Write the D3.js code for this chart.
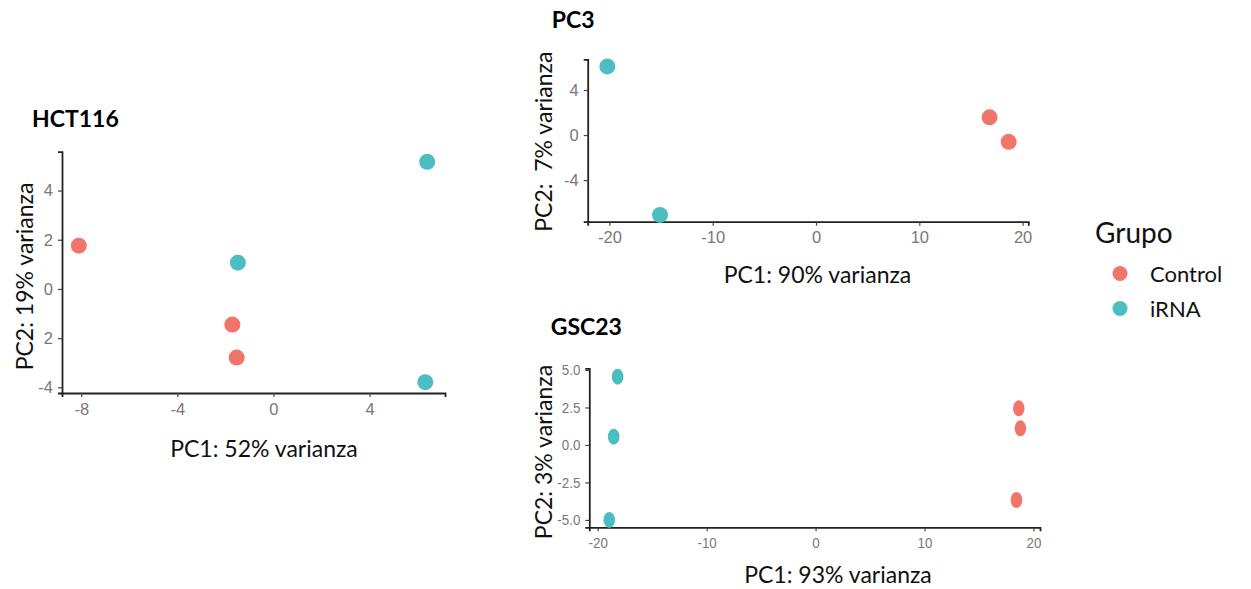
<!DOCTYPE html>
<html><head><meta charset="utf-8">
<script src="https://cdn.jsdelivr.net/npm/d3@7"></script>
<style>
body{margin:0;background:#fff;}
svg{display:block;}
</style></head>
<body>
<svg id="c" width="1251" height="589"></svg>
<script>
// ---------- data ----------
const groups = ["Control", "iRNA"];

// HCT116
const hctPC1   = [-8.1, -1.71, -1.53, -1.48, 6.40, 6.32];
const hctPC2   = [1.76, -1.45, -2.79, 1.07, 5.17, -3.79];
const hctGroup = ["Control","Control","Control","iRNA","iRNA","iRNA"];
const hctXTicks = [-8, -4, 0, 4];
const hctXLabels = ["-8", "-4", "0", "4"];
const hctYTicks = [4, 2, 0, -2, -4];
const hctYLabels = ["4", "2", "0", "2", "-4"];

// PC3
const pc3PC1   = [16.8, 18.65, -20.2, -15.1];
const pc3PC2   = [1.57, -0.6, 6.1, -7.1];
const pc3Group = ["Control","Control","iRNA","iRNA"];
const pc3XTicks = [-20, -10, 0, 10, 20];
const pc3XLabels = ["-20", "-10", "0", "10", "20"];
const pc3YTicks = [4, 0, -4];
const pc3YLabels = ["4", "0", "-4"];

// GSC23
const gscPC1   = [18.65, 18.8, 18.44, -18.17, -18.53, -18.94];
const gscPC2   = [2.44, 1.11, -3.67, 4.55, 0.55, -5.0];
const gscGroup = ["Control","Control","Control","iRNA","iRNA","iRNA"];
const gscXTicks = [-20, -10, 0, 10, 20];
const gscXLabels = ["-20", "-10", "0", "10", "20"];
const gscYTicks = [5, 2.5, 0, -2.5, -5];
const gscYLabels = ["5.0", "2.5", "0.0", "-2.5", "-5.0"];

// ---------- style ----------
const color = d3.scaleOrdinal().domain(groups).range(["#F2756B", "#4BBEC2"]);
const FONT = "Lato, 'Open Sans', sans-serif";
const TICKFONT = "'Liberation Sans', Arial, sans-serif";

const panels = [
  { title: "HCT116", xTitle: "PC1: 52% varianza", yTitle: "PC2: 19% varianza",
    pc1: hctPC1, pc2: hctPC2, grp: hctGroup,
    xT: hctXTicks, xL: hctXLabels, yT: hctYTicks, yL: hctYLabels,
    xDom: [-8.8, 7.14], xRange: [62, 445], yDom: [-4.23, 5.58], yRange: [393, 151.7],
    titlePos: [32, 127], xTitlePos: [264, 457], yTitlePos: [33, 276.5],
    tickFs: 16.5, tickStretch: 1, rx: 8, ry: 8 },
  { title: "PC3", xTitle: "PC1: 90% varianza", yTitle: "PC2:  7% varianza",
    pc1: pc3PC1, pc2: pc3PC2, grp: pc3Group,
    xT: pc3XTicks, xL: pc3XLabels, yT: pc3YTicks, yL: pc3YLabels,
    xDom: [-22.1, 20.55], xRange: [587.7, 1028.3], yDom: [-7.7, 6.73], yRange: [221.7, 59.3],
    titlePos: [551.7, 28], xTitlePos: [817.5, 283], yTitlePos: [552, 141.7],
    tickFs: 16.5, tickStretch: 1, rx: 8, ry: 8 },
  { title: "GSC23", xTitle: "PC1: 93% varianza", yTitle: "PC2: 3% varianza",
    pc1: gscPC1, pc2: gscPC2, grp: gscGroup,
    xT: gscXTicks, xL: gscXLabels, yT: gscYTicks, yL: gscYLabels,
    xDom: [-20.77, 20.6], xRange: [589.3, 1040], yDom: [-5.49, 5.11], yRange: [527.3, 368.3],
    titlePos: [550.7, 335], xTitlePos: [838, 583], yTitlePos: [552, 452],
    tickFs: 14.5, tickStretch: 0.92, rx: 5.8, ry: 8 }
];

const svg = d3.select("#c");

panels.forEach(p => {
  const x = d3.scaleLinear().domain(p.xDom).range(p.xRange);
  const y = d3.scaleLinear().domain(p.yDom).range(p.yRange);
  const g = svg.append("g");

  // axes
  const xa = g.append("g").attr("transform", `translate(0,${p.yRange[0]})`)
    .call(d3.axisBottom(x).tickValues(p.xT).tickSize(4).tickPadding(6)
      .tickFormat((d, i) => p.xL[i]));
  const ya = g.append("g").attr("transform", `translate(${p.xRange[0]},0)`)
    .call(d3.axisLeft(y).tickValues(p.yT).tickSize(4).tickPadding(5)
      .tickFormat((d, i) => p.yL[i]));
  [xa, ya].forEach(a => {
    a.select(".domain").attr("stroke", "#222").attr("stroke-width", 1.8);
    a.selectAll(".tick line").attr("stroke", "#444").attr("stroke-width", 1.2);
    a.selectAll(".tick text").attr("fill", "#787878").attr("font-family", TICKFONT)
      .attr("font-size", p.tickFs);
  });
  if (p.tickStretch !== 1) {
    ya.selectAll(".tick text").each(function() {
      const t = d3.select(this);
      t.attr("x", null).attr("transform", `translate(-9,0) scale(${p.tickStretch},1)`);
    });
    xa.selectAll(".tick text").attr("transform", `scale(${p.tickStretch},1)`);
  }

  // points
  g.append("g").selectAll("ellipse")
    .data(p.pc1.map((v, i) => ({ a: v, b: p.pc2[i], g: p.grp[i] })))
    .join("ellipse")
    .attr("cx", d => x(d.a)).attr("cy", d => y(d.b))
    .attr("rx", p.rx).attr("ry", p.ry)
    .attr("fill", d => color(d.g));

  // titles
  g.append("text").attr("x", p.titlePos[0]).attr("y", p.titlePos[1])
    .attr("font-family", FONT).attr("font-weight", "bold").attr("font-size", 23)
    .attr("fill", "#000").text(p.title);
  g.append("text").attr("x", p.xTitlePos[0]).attr("y", p.xTitlePos[1])
    .attr("text-anchor", "middle").attr("font-family", FONT).attr("font-size", 23)
    .attr("fill", "#111").style("white-space", "pre").text(p.xTitle);
  g.append("text")
    .attr("transform", `translate(${p.yTitlePos[0]},${p.yTitlePos[1]}) rotate(-90)`)
    .attr("text-anchor", "middle").attr("font-family", FONT).attr("font-size", 23)
    .attr("fill", "#111").style("white-space", "pre").text(p.yTitle);
});

// legend
const lg = svg.append("g");
lg.append("text").attr("x", 1095).attr("y", 243).attr("font-family", FONT)
  .attr("font-size", 28).attr("fill", "#111").text("Grupo");
lg.selectAll("circle").data(groups).join("circle")
  .attr("cx", 1120).attr("cy", (d, i) => 273.5 + i * 35).attr("r", 7.5)
  .attr("fill", d => color(d));
lg.selectAll("text.item").data(groups).join("text").attr("class", "item")
  .attr("x", 1150).attr("y", (d, i) => 282 + i * 35)
  .attr("font-family", FONT).attr("font-size", 22).attr("fill", "#111").text(d => d);
</script>
</body></html>
